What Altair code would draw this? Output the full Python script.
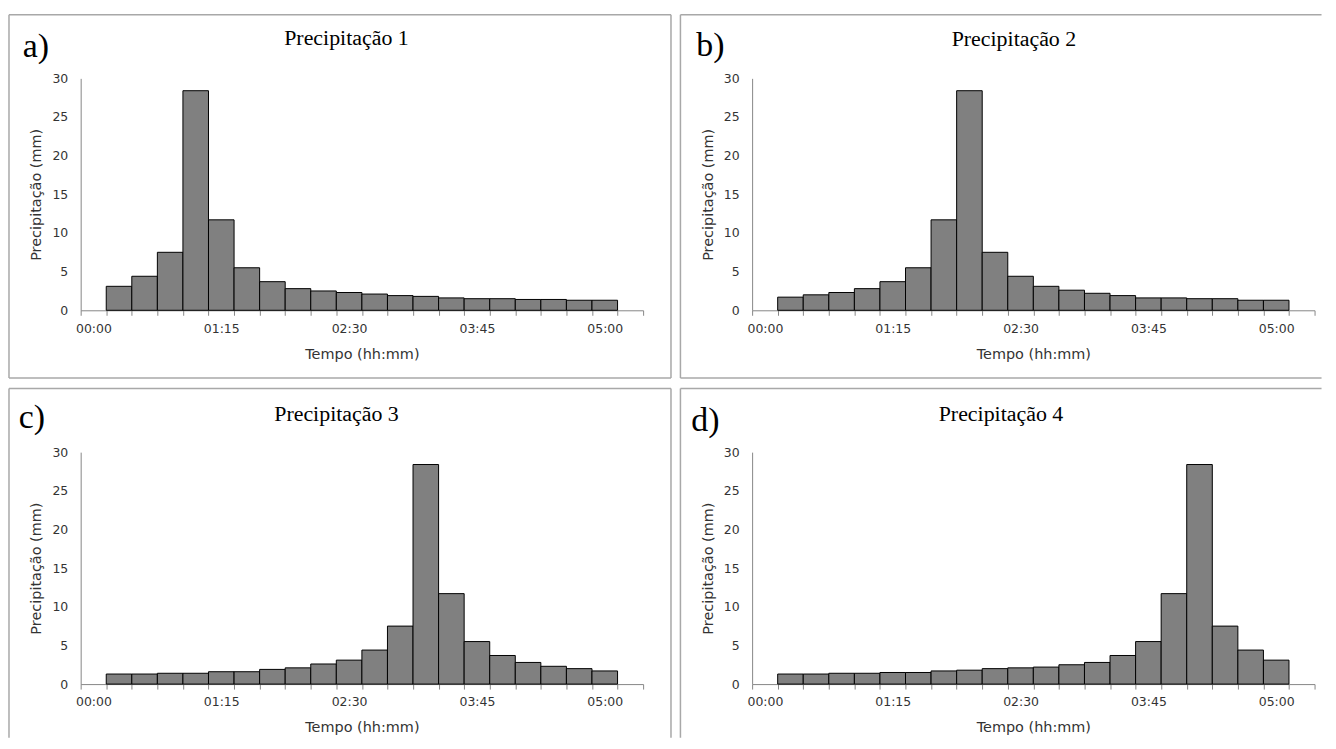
import altair as alt
import pandas as pd

# ---------------- data ----------------
interval_minutes = list(range(15, 301, 15))  # bar centres: 00:15 ... 05:00

precip_1 = [3.1, 4.4, 7.5, 28.4, 11.7, 5.5, 3.7, 2.8, 2.5, 2.3,
            2.1, 1.9, 1.8, 1.6, 1.5, 1.5, 1.4, 1.4, 1.3, 1.3]
precip_2 = [1.7, 2.0, 2.3, 2.8, 3.7, 5.5, 11.7, 28.4, 7.5, 4.4,
            3.1, 2.6, 2.2, 1.9, 1.6, 1.6, 1.5, 1.5, 1.3, 1.3]
precip_3 = [1.3, 1.3, 1.4, 1.4, 1.6, 1.6, 1.9, 2.1, 2.6, 3.1,
            4.4, 7.5, 28.4, 11.7, 5.5, 3.7, 2.8, 2.3, 2.0, 1.7]
precip_4 = [1.3, 1.3, 1.4, 1.4, 1.5, 1.5, 1.7, 1.8, 2.0, 2.1,
            2.2, 2.5, 2.8, 3.7, 5.5, 11.7, 28.4, 7.5, 4.4, 3.1]

panel_titles = ["Precipitação 1", "Precipitação 2", "Precipitação 3", "Precipitação 4"]
panel_letters = ["a)", "b)", "c)", "d)"]

tick_minutes = [0, 75, 150, 225, 300]
tick_labels = ["00:00", "01:15", "02:30", "03:45", "05:00"]
y_ticks = [0, 5, 10, 15, 20, 25, 30]

# ---------------- layout / style ----------------
STEP = 15
HALF = STEP / 2
PLOT_W, PLOT_H = 565, 233
x_domain = [0 - HALF, 315 + HALF]
boundaries = [x_domain[0] + STEP * k for k in range(23)]
px_per_min = PLOT_W / (x_domain[1] - x_domain[0])
label_expr = " : ".join(
    f"datum.value == {m - HALF} ? '{lab}'" for m, lab in zip(tick_minutes, tick_labels)
) + " : ''"

SANS = "DejaVu Sans"
SERIF = "Liberation Serif"
FRAME = "#a8a8a8"
AXIS_GREY = "#868686"
TEXT_GREY = "#333333"

one = pd.DataFrame({"k": [0]})

title_pos = [(267, -40), (263, -39), (257, -38), (250, -38)]
letter_pos = [(-45, -31), (-42, -32), (-49, -34), (-47, -31)]


def rule(x1, x2, y1, y2):
    return alt.Chart(one).mark_rule(color=FRAME, strokeWidth=1.5).encode(
        x=alt.value(x1), x2=alt.value(x2), y=alt.value(y1), y2=alt.value(y2)
    )


def panel(i, values, right_col, bottom_row):
    df = pd.DataFrame({"t": interval_minutes, "p": values})
    df["start"] = df["t"] - HALF
    df["end"] = df["t"] + HALF

    bars = alt.Chart(df).mark_bar(color="#808080", stroke="black", strokeWidth=1).encode(
        x=alt.X(
            "start:Q",
            scale=alt.Scale(domain=x_domain, nice=False, zero=False),
            axis=alt.Axis(
                values=boundaries, labelExpr=label_expr, labelOffset=px_per_min * HALF,
                grid=False, domainColor=AXIS_GREY, tickColor=AXIS_GREY, tickSize=5,
                labelFont=SANS, labelFontSize=12.5, labelColor=TEXT_GREY, labelPadding=7,
                labelFlush=False, labelOverlap=False,
                title="Tempo (hh:mm)", titleFont=SANS, titleFontSize=14.5,
                titleFontWeight="normal", titleColor=TEXT_GREY,
                titleX=PLOT_W / 2, titleY=44, titleBaseline="middle", titleAlign="center",
            ),
        ),
        x2="end:Q",
        y=alt.Y(
            "p:Q",
            scale=alt.Scale(domain=[0, 30], nice=False),
            axis=alt.Axis(
                values=y_ticks, grid=False, domainColor=AXIS_GREY, tickSize=0,
                labelFont=SANS, labelFontSize=12.5, labelColor=TEXT_GREY, labelPadding=13,
                title="Precipitação (mm)", titleFont=SANS, titleFontSize=14.5,
                titleFontWeight="normal", titleColor=TEXT_GREY,
                titleX=-44, titleY=PLOT_H / 2, titleAngle=270,
                titleBaseline="middle", titleAlign="center",
            ),
        ),
        y2=alt.datum(0),
    )

    tx, ty = title_pos[i]
    title = alt.Chart(one).mark_text(
        text=panel_titles[i], font=SERIF, fontSize=22, color="black",
        align="center", baseline="middle",
    ).encode(x=alt.value(tx), y=alt.value(ty))

    lx, ly = letter_pos[i]
    letter = alt.Chart(one).mark_text(
        text=panel_letters[i], font=SERIF, fontSize=34, color="black",
        align="center", baseline="middle",
    ).encode(x=alt.value(lx), y=alt.value(ly))

    left, top = -72, -64
    right = 572 if right_col else 593
    bottom = 287 if bottom_row else 301
    frame = [rule(left, right, top, top), rule(left, left, top, bottom)]
    if not right_col:
        frame.append(rule(right, right, top, bottom))
    if not bottom_row:
        frame.append(rule(left, right, bottom, bottom))

    return alt.layer(bars, title, letter, *frame).properties(width=PLOT_W, height=PLOT_H)


a = panel(0, precip_1, False, False)
b = panel(1, precip_2, True, False)
c = panel(2, precip_3, False, True)
d = panel(3, precip_4, True, True)

chart = alt.vconcat(
    alt.hconcat(a, b, spacing=7.5),
    alt.hconcat(c, d, spacing=7.5),
    spacing=8.5,
).properties(
    padding={"left": 0, "top": 4, "right": 0, "bottom": 0},
    background="white",
).configure_view(strokeWidth=0)

chart.save("out.html", embed_options={"renderer": "svg", "actions": False})
